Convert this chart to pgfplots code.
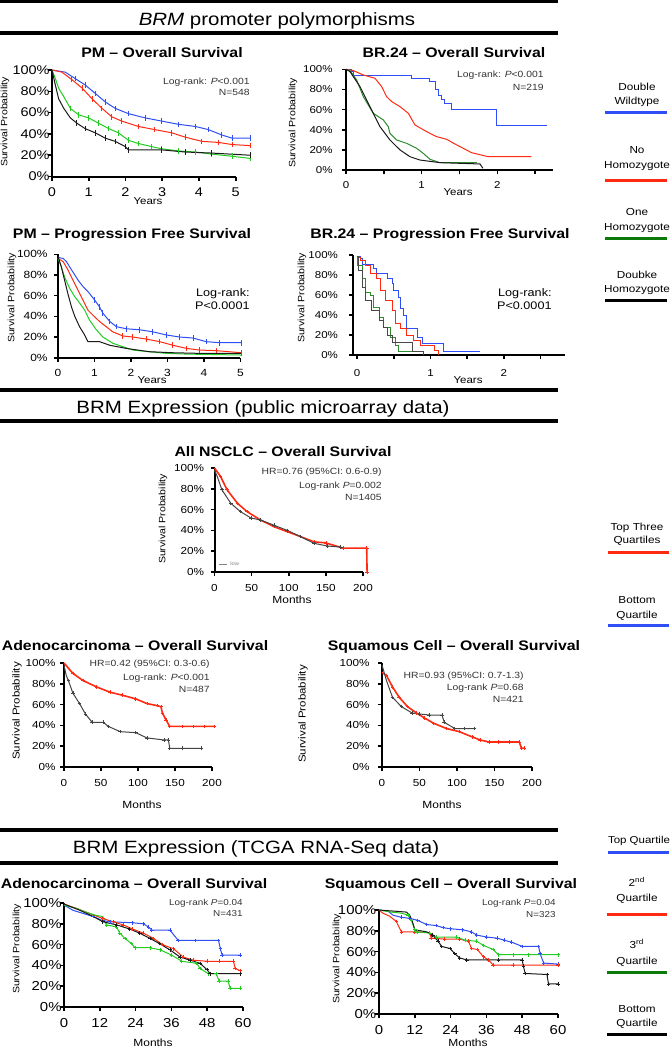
\documentclass[border=0pt]{standalone}
\usepackage{fontspec}
\setmainfont{Liberation Sans}[FakeStretch=1.15]
\usepackage{pgfplots}
\pgfplotsset{compat=1.18}
\definecolor{cblue}{HTML}{2F4EF5}
\definecolor{cred}{HTML}{FF2A12}
\definecolor{cgreen}{HTML}{22CC22}
\definecolor{cdgreen}{HTML}{2E8B2E}
\definecolor{cleg}{HTML}{0A7A0A}
\definecolor{cblack}{HTML}{1A1A1A}
\definecolor{cgray}{HTML}{444444}
\definecolor{ctext}{HTML}{333333}
\newcommand\fs[1]{\fontsize{#1}{#1}\selectfont}
\pgfplotsset{
  km/.style={
    scale only axis, anchor=south west, clip=false,
    axis x line*=bottom, axis y line*=left,
    xtick pos=left, ytick pos=left,
    axis line style={line width=1pt,-},
    every outer x axis line/.append style={-},
    every outer y axis line/.append style={-},
    every inner x axis line/.append style={-},
    every inner y axis line/.append style={-},
    ymin=0, ymax=100,
    ytick={0,20,40,60,80,100},
    yticklabels={0\%,20\%,40\%,60\%,80\%,100\%},
    tick align=outside, major tick length=2pt,
    tick style={line width=0.8pt,black},
    xticklabel style={inner sep=0pt,anchor=north},
    yticklabel style={inner sep=0pt,anchor=east},
    /pgf/number format/assume math mode=true,
    every axis plot/.append style={line width=0.5pt,mark=none},
  },
  cens/.style={mark=|, mark size=1.4pt, mark options={solid,line width=0.5pt}, mark phase=#1, mark repeat=1},
  cplus/.style={mark=+, mark size=0.9pt, mark options={solid,line width=0.35pt}, mark phase=#1, mark repeat=1},
}
\begin{document}
\begin{tikzpicture}
\path[use as bounding box] (0pt,0pt) rectangle (335.5pt,-525pt);

% ================= PM OS
\begin{axis}[km, at={(26pt,-88.25pt)}, width=91.85pt, height=53.25pt, xmin=0, xmax=5,
  xtick={0,1,2,3,4,5}, xticklabels={0,1,2,3,4,5},
  ticklabel style={font=\fs{6.3pt}}, xticklabel style={yshift=-3.5pt}, yticklabel style={xshift=1pt}]
\addplot[cblue,cens=3] coordinates {(0,100)(0.36,98)(0.63,92)(0.9,86)(1.18,78)(1.45,70)(1.72,64)(2.08,59)(2.54,55)(2.99,52)(3.44,49)(3.9,47)(4.26,44)(4.62,39)(4.9,36)(5.39,36)};
\addplot[cred,cens=3] coordinates {(0,100)(0.27,98)(0.54,91)(0.82,83)(1.09,73)(1.36,64)(1.63,56)(1.9,52)(2.35,47)(2.8,44)(3.26,41)(3.62,37)(4.08,33)(4.53,32)(4.9,30)(5.39,29)};
\addplot[cgreen,cens=5] coordinates {(0,100)(0.09,92)(0.18,83)(0.32,75)(0.5,64)(0.72,58)(1.0,55)(1.27,50)(1.54,45)(1.81,41)(2.08,34)(2.35,31)(2.72,28)(2.99,26)(3.44,24)(3.9,23)(4.35,21)(4.9,19)(5.39,17)};
\addplot[cblack,cens=6] coordinates {(0,100)(0.07,89)(0.18,73)(0.32,64)(0.5,55)(0.68,50)(0.9,45)(1.18,41)(1.45,36)(1.72,33)(2.0,28)(2.08,25)(2.99,25)(3.62,23)(4.35,22)(5.39,20)};
\end{axis}

% ================= BR.24 OS
\begin{axis}[km, at={(173pt,-85pt)}, width=103.3pt, height=50.35pt, xmin=0, xmax=2.73,
  xtick={0,0.5,1,1.5,2,2.5}, xticklabels={0,,1,,2,},
  ticklabel style={font=\fs{5pt}}, xticklabel style={yshift=-3.7pt}, yticklabel style={xshift=-4.5pt}]
\addplot[cblue,const plot] coordinates {(0,100)(0.07,97.7)(0.1,93.4)(0.87,90.7)(1.1,88)(1.18,80)(1.22,74)(1.26,70)(1.30,66)(1.40,60)(1.99,44)(2.65,44)};
\addplot[cred] coordinates {(0,100)(0.097,98.7)(0.229,94.4)(0.383,91.1)(0.471,82.8)(0.537,72.8)(0.604,67.9)(0.714,62.9)(0.824,56.3)(0.912,44.7)(1.066,38.1)(1.198,33.1)(1.33,30.5)(1.44,25.8)(1.55,21.5)(1.66,17.2)(1.88,13.2)(2.45,13.2)};
\addplot[cdgreen] coordinates {(0,100)(0.053,98.7)(0.141,89.4)(0.229,72.8)(0.361,56.3)(0.493,49.7)(0.559,43)(0.581,36.4)(0.67,29.8)(0.80,26.5)(0.934,21.5)(1.02,16.6)(1.11,10.6)(1.24,7.3)(1.73,7.3)};
\addplot[cblack] coordinates {(0,100)(0.053,97.7)(0.185,82.8)(0.317,62.9)(0.449,43)(0.581,29.8)(0.714,19.9)(0.846,13.2)(0.978,9.9)(1.24,7.3)(1.77,6)(1.81,1.7)};
\end{axis}

% ================= PM PFS
\begin{axis}[km, at={(29pt,-178.85pt)}, width=91.25pt, height=51.7pt, xmin=0, xmax=5,
  xtick={0,1,2,3,4,5}, xticklabels={0,1,2,3,4,5},
  ticklabel style={font=\fs{5.2pt}}, xticklabel style={yshift=-3.8pt}, yticklabel style={xshift=-3pt}]
\addplot[cblue,cens=8] coordinates {(0,97)(0.14,96)(0.23,93)(0.37,85)(0.55,75)(0.68,69)(0.82,64)(1.0,56)(1.14,49)(1.23,43)(1.42,35)(1.6,30)(1.87,28)(2.24,27)(2.6,25)(2.97,22)(3.33,20)(3.7,19)(4.06,15.5)(4.43,14.5)(5.02,14.5)};
\addplot[cred,cens=12] coordinates {(0,96)(0.14,93)(0.27,85)(0.41,75)(0.55,65)(0.68,56)(0.82,46)(0.96,41)(1.14,35)(1.32,30)(1.5,25)(1.78,21)(2.05,20)(2.42,18)(2.79,15.5)(3.15,12)(3.52,9)(3.88,7.4)(4.34,6.8)(5.02,4.8)};
\addplot[cgreen] coordinates {(0,96)(0.09,88)(0.18,78)(0.32,67)(0.46,59)(0.59,53)(0.73,46)(0.87,36)(1.05,27)(1.23,20)(1.5,14)(1.78,10.6)(2.05,7.4)(2.5,5.8)(2.97,4.2)(3.52,3.5)(5.02,2.6)};
\addplot[cblack] coordinates {(0,98)(0.09,88)(0.18,75)(0.27,62)(0.37,49)(0.46,40)(0.59,30)(0.73,22)(0.82,15.5)(1.14,15.5)(1.42,12)(1.87,9)(2.5,5.8)(3.15,4.8)(3.88,4.2)(5.02,4.2)};
\end{axis}

% ================= BR.24 PFS
\begin{axis}[km, at={(176.65pt,-177.5pt)}, width=105.8pt, height=50pt, xmin=-0.05, xmax=2.83,
  xtick={0,0.5,1,1.5,2,2.5}, xticklabels={0,,1,,2,},
  ticklabel style={font=\fs{5pt}}, xticklabel style={yshift=-5.2pt}, yticklabel style={xshift=-5.5pt}]
\addplot[cblue,const plot] coordinates {(0,99)(0.05,97)(0.07,91)(0.23,87)(0.27,82)(0.41,77)(0.48,72)(0.5,65)(0.57,58)(0.59,47)(0.64,40)(0.67,27)(0.82,18)(0.89,12)(1.18,4)(1.68,4)};
\addplot[cred,const plot] coordinates {(0,98)(0.05,95)(0.11,90)(0.18,82)(0.27,77)(0.32,65)(0.39,55)(0.48,45)(0.52,32)(0.59,27)(0.68,20)(0.77,15)(0.86,10)(1.05,5)(1.11,0)};
\addplot[cdgreen,const plot] coordinates {(0,99)(0.01,90)(0.07,77)(0.11,63)(0.18,60)(0.23,48)(0.3,38)(0.36,28)(0.45,18)(0.52,10)(0.57,4)(0.75,4)};
\addplot[cblack!80,const plot] coordinates {(0,99)(0.02,85)(0.07,68)(0.11,55)(0.2,45)(0.3,35)(0.36,28)(0.41,20)(0.48,13)(0.75,4)(0.91,0)};
\end{axis}

% ================= All NSCLC
\begin{axis}[km, at={(107.25pt,-286pt)}, width=74.25pt, height=52pt, xmin=0, xmax=200,
  xtick={0,50,100,150,200}, xticklabels={0,50,100,150,200},
  ticklabel style={font=\fs{5.1pt}}, xticklabel style={yshift=-4.15pt}, yticklabel style={xshift=-3pt}]
\addplot[cred,line width=0.8pt,cplus=2] coordinates {(0,100)(8,92)(17,79)(31,66)(44,58)(62,50)(80,43.6)(98,38.8)(116,34)(134,29)(150,28)(173,23)(205,23)(205.5,0)};
\addplot[cgray,cplus=3] coordinates {(0,98)(3.6,92)(10,79)(22,66)(35,58)(49,52)(62,50)(80,45)(98,40)(116,34)(134,27.6)(152,25)(170,24)};
\end{axis}

% ================= Adeno microarray
\begin{axis}[km, at={(32pt,-383.5pt)}, width=74pt, height=52pt, xmin=0, xmax=200,
  xtick={0,50,100,150,200}, xticklabels={0,50,100,150,200},
  ticklabel style={font=\fs{5.1pt}}, xticklabel style={yshift=-4.15pt}, yticklabel style={xshift=-2pt}]
\addplot[cred,line width=0.8pt,cplus=2] coordinates {(0,100)(12,90)(26,83)(44,77)(62,72)(79,69)(97,65.5)(112,61)(126,59)(131,58)(133,52)(138,45)(143,39)(160,39)(175,39)(190,39)(203,39)};
\addplot[cgray,cplus=3] coordinates {(0,98)(3,88)(6,83)(12,71)(21,61)(29,51)(38,43)(53,43)(60,39)(76,34)(97,33)(112,28)(135,26)(141,26)(143,18)(160,18)(185,18)};
\end{axis}

% ================= Squamous microarray
\begin{axis}[km, at={(191pt,-383.5pt)}, width=75pt, height=52pt, xmin=0, xmax=200,
  xtick={0,50,100,150,200}, xticklabels={0,50,100,150,200},
  ticklabel style={font=\fs{5.1pt}}, xticklabel style={yshift=-4.15pt}, yticklabel style={xshift=-4pt}]
\addplot[cred,line width=0.8pt,cplus=2] coordinates {(0,91)(6,88)(14,77)(23,67)(34,58)(46,52)(57,47)(69,42)(86,37)(103,34)(120,29)(131,26)(143,24)(155,24)(170,24)(183,24)(186,18)(190,18)};
\addplot[cgray,cplus=3] coordinates {(0,98)(6,83)(14,67)(26,58)(40,52)(50,51)(63,50)(80,50)(83,43)(97,37)(110,37)(123,37)};
\end{axis}

% ================= TCGA Adeno
\begin{axis}[km, at={(32pt,-503.5pt)}, width=89.5pt, height=52pt, xmin=0, xmax=60,
  xtick={0,12,24,36,48,60}, xticklabels={0,12,24,36,48,60},
  ticklabel style={font=\fs{6.5pt}}, xticklabel style={yshift=-3.65pt}, yticklabel style={xshift=1pt}]
\addplot[cblue,cplus=4] coordinates {(0,98)(3,93)(6.4,90)(9.8,87)(13,83)(15.4,82)(23,81)(26.6,80)(28.3,77)(29.4,74)(35.5,74)(38.3,64)(44,64)(51.8,64)(52.4,56)(53,50)(59,50)};
\addplot[cred,cplus=4] coordinates {(0,99)(4,95)(8.6,90)(13,85)(16.5,82)(19.8,79)(23,75)(26.6,71)(30,66)(33,60)(36.7,56)(40,48)(43.4,45)(47.9,44)(52,44)(56.8,44)(57.4,37)(59,35)};
\addplot[cgreen,cplus=6] coordinates {(0,98)(4,95)(7.5,91)(10.9,88)(13,87)(14.2,79)(17.6,77)(18.7,71)(20.4,66)(22.6,61)(23.8,57)(28.8,57)(32.2,55)(36,50)(39.5,44)(44.5,42)(45.6,37)(48.4,32)(51,32)(52,25)(55,25)(55.7,18)(59,18)};
\addplot[cblack,cplus=4] coordinates {(0,99)(5.3,93)(9.8,87)(13,82)(17.6,79)(22,75)(25.4,71)(28.8,66)(32,61)(35.5,55)(38.9,48)(42.3,45)(45.6,42)(47.9,36)(49,32)(59,32)};
\end{axis}

% ================= TCGA Squamous
\begin{axis}[km, at={(189.5pt,-507pt)}, width=89.5pt, height=52pt, xmin=0, xmax=60,
  xtick={0,12,24,36,48,60}, xticklabels={0,12,24,36,48,60},
  ticklabel style={font=\fs{6.5pt}}, xticklabel style={yshift=-3.65pt}, yticklabel style={xshift=0.8pt}]
\addplot[cblue,cplus=4] coordinates {(0,100)(3,99)(4.7,95)(7.5,93)(10.3,92)(13,90)(16,86)(19.3,85)(21.5,83)(23.8,82)(28,81)(31,79)(32.7,76)(36,74)(39.5,73)(42,71)(44.5,69)(48,65)(53.5,65)(54,58)(55.2,49)(60,48)};
\addplot[cred,cplus=4] coordinates {(0,100)(1.3,97)(3.6,94)(5.8,89)(7.5,79)(12,79)(17,78)(17.5,73)(22,72)(27,72)(30,70)(31,63)(33,62)(35,55)(36.7,52)(38.3,47)(45,47)(60,47)};
\addplot[cgreen,cplus=4] coordinates {(0,100)(4,98)(7.5,97)(9.8,95)(10.9,90)(12,81)(13,79)(17,78)(19.3,74)(26,74)(28.8,71)(32.7,70)(35,66)(38.3,62)(40,57)(45,57)(50,57)(60,57)};
\addplot[cblack,cplus=8] coordinates {(0,100)(4.7,99)(9.2,98)(10.3,95)(11.4,87)(12,81)(16,79)(18,76)(19.8,70)(21,65)(23.8,63)(25.4,58)(27,54)(29.4,52)(40,52)(48,52)(48.4,46)(49,39)(56.3,38)(56.8,29)(60,29)};
\end{axis}

\begin{scope}[x=0.5pt,y=-0.5pt]
% ================= Section headers
\draw[line width=1.5pt] (0,1.5) -- (558,1.5);
\node[font=\fs{8.9pt},anchor=base] at (277,25) {\textit{BRM} promoter polymorphisms};
\draw[line width=1.75pt] (0,33) -- (558,33);
\draw[line width=1.75pt] (0,390) -- (558,390);
\node[font=\fs{8.9pt},anchor=base] at (263,413.5) {BRM Expression (public microarray data)};
\draw[line width=1.75pt] (0,421) -- (558,421);
\draw[line width=1.75pt] (0,830) -- (558,830);
\node[font=\fs{8.9pt},anchor=base] at (256,853.5) {BRM Expression (TCGA RNA-Seq data)};
\draw[line width=1.75pt] (0,863) -- (558,863);

% ================= Titles
\begin{scope}[every node/.style={font=\fs{6.9pt}\bfseries,anchor=base}]
\node at (162,57) {PM -- Overall Survival};
\node at (454,57) {BR.24 -- Overall Survival};
\node at (132,238) {PM -- Progression Free Survival};
\node at (440,238) {BR.24 -- Progression Free Survival};
\node at (283,456) {All NSCLC -- Overall Survival};
\node at (135,650) {Adenocarcinoma -- Overall Survival};
\node at (454,650) {Squamous Cell -- Overall Survival};
\node at (134,888) {Adenocarcinoma -- Overall Survival};
\node at (451,888) {Squamous Cell -- Overall Survival};
\end{scope}

% ================= Annotations
\begin{scope}[every node/.style={font=\fs{4.5pt},anchor=base east,text=ctext,inner sep=0pt}]
\node at (250,84.2) {Log-rank: \textit{P}<0.001};
\node at (250,95.2) {N=548};
\node at (544,77.2) {Log-rank: \textit{P}<0.001};
\node at (544,90.2) {N=219};
\node at (382,474) {HR=0.76 (95\%CI: 0.6-0.9)};
\node at (382,488) {Log-rank \textit{P}=0.002};
\node at (382,500) {N=1405};
\node at (210,666) {HR=0.42 (95\%CI: 0.3-0.6)};
\node at (210,680) {Log-rank: \textit{P}<0.001};
\node at (210,692) {N=487};
\node at (524,678) {HR=0.93 (95\%CI: 0.7-1.3)};
\node at (524,690) {Log-rank \textit{P}=0.68};
\node at (524,702) {N=421};
\node[font=\fs{4.3pt}] at (243,905) {Log-rank \textit{P}=0.04};
\node[font=\fs{4.3pt}] at (243,916) {N=431};
\node[font=\fs{4.3pt}] at (556,905) {Log-rank \textit{P}=0.04};
\node[font=\fs{4.3pt}] at (556,917) {N=323};
\end{scope}
\begin{scope}[every node/.style={font=\fs{5.5pt},anchor=base east,inner sep=0pt}]
\node at (250,296) {Log-rank:};
\node at (250,309) {P<0.0001};
\node at (552,296) {Log-rank:};
\node at (552,309) {P<0.0001};
\end{scope}

% small "low" legend
\draw[gray,line width=0.3pt] (219,564) -- (227,564);
\node[font=\fs{2.5pt},text=gray,anchor=west,inner sep=0pt] at (230,564) {low};

% ================= Axis labels
\begin{scope}[every node/.style={font=\fs{5pt},anchor=base,inner sep=0pt}]
\node at (148,204.6) {Years};
\node at (458,195.6) {Years};
\node at (152,383.6) {Years};
\node at (468,383.6) {Years};
\end{scope}
\begin{scope}[every node/.style={font=\fs{5.2pt},anchor=base,inner sep=0pt}]
\node at (292,603.7) {Months};
\node at (142,808.7) {Months};
\node at (442,808.7) {Months};
\node at (153,1046.7) {Months};
\node at (468,1046.7) {Months};
\end{scope}
\begin{scope}[every node/.style={font=\fs{4.6pt},rotate=90,inner sep=0pt}]
\node at (5,122) {Survival Probability};
\node at (293,123) {Survival Probability};
\node at (12,298) {Survival Probability};
\node at (302,298) {Survival Probability};
\node at (163,519) {Survival Probability};
\node[font=\fs{5pt}] at (17,711) {Survival Probability};
\node[font=\fs{5pt}] at (303,714) {Survival Probability};
\node at (17,949) {Survival Probability};
\node at (337,959) {Survival Probability};
\end{scope}

% ================= Legends
\begin{scope}[every node/.style={font=\fs{5.1pt},anchor=base,inner sep=0pt}]
\node at (637,90.7) {Double};
\node at (637,104.7) {Wildtype};
\node at (637,153.7) {No};
\node at (637,168.7) {Homozygote};
\node at (637,215.7) {One};
\node at (637,230.7) {Homozygote};
\node at (637,278.7) {Doubke};
\node at (637,292.7) {Homozygote};
\node at (637,530.7) {Top Three};
\node at (637,543.7) {Quartiles};
\node at (637,603.7) {Bottom};
\node at (637,618.7) {Quartile};
\node[font=\fs{5pt}] at (639,843.7) {Top Quartile};
\node at (637,886.7) {2\textsuperscript{nd}};
\node at (637,901.7) {Quartile};
\node at (637,948.7) {3\textsuperscript{rd}};
\node at (637,964.7) {Quartile};
\node at (637,1012.7) {Bottom};
\node at (637,1026.7) {Quartile};
\end{scope}
\draw[cblue,line width=1.5pt] (605,112) -- (667,112);
\draw[cred,line width=1.5pt] (605,180) -- (667,180);
\draw[cleg,line width=1.5pt] (605,238) -- (667,238);
\draw[black,line width=1.5pt] (605,300) -- (667,300);
\draw[cred,line width=1.5pt] (608,552) -- (669,552);
\draw[cblue,line width=1.5pt] (608,625) -- (669,625);
\draw[cblue,line width=1.5pt] (608,852) -- (669,852);
\draw[cred,line width=1.5pt] (607,914) -- (667,914);
\draw[cleg,line width=1.5pt] (607,972) -- (667,972);
\draw[black,line width=1.5pt] (607,1034) -- (667,1034);
\end{scope}
\end{tikzpicture}
\end{document}
